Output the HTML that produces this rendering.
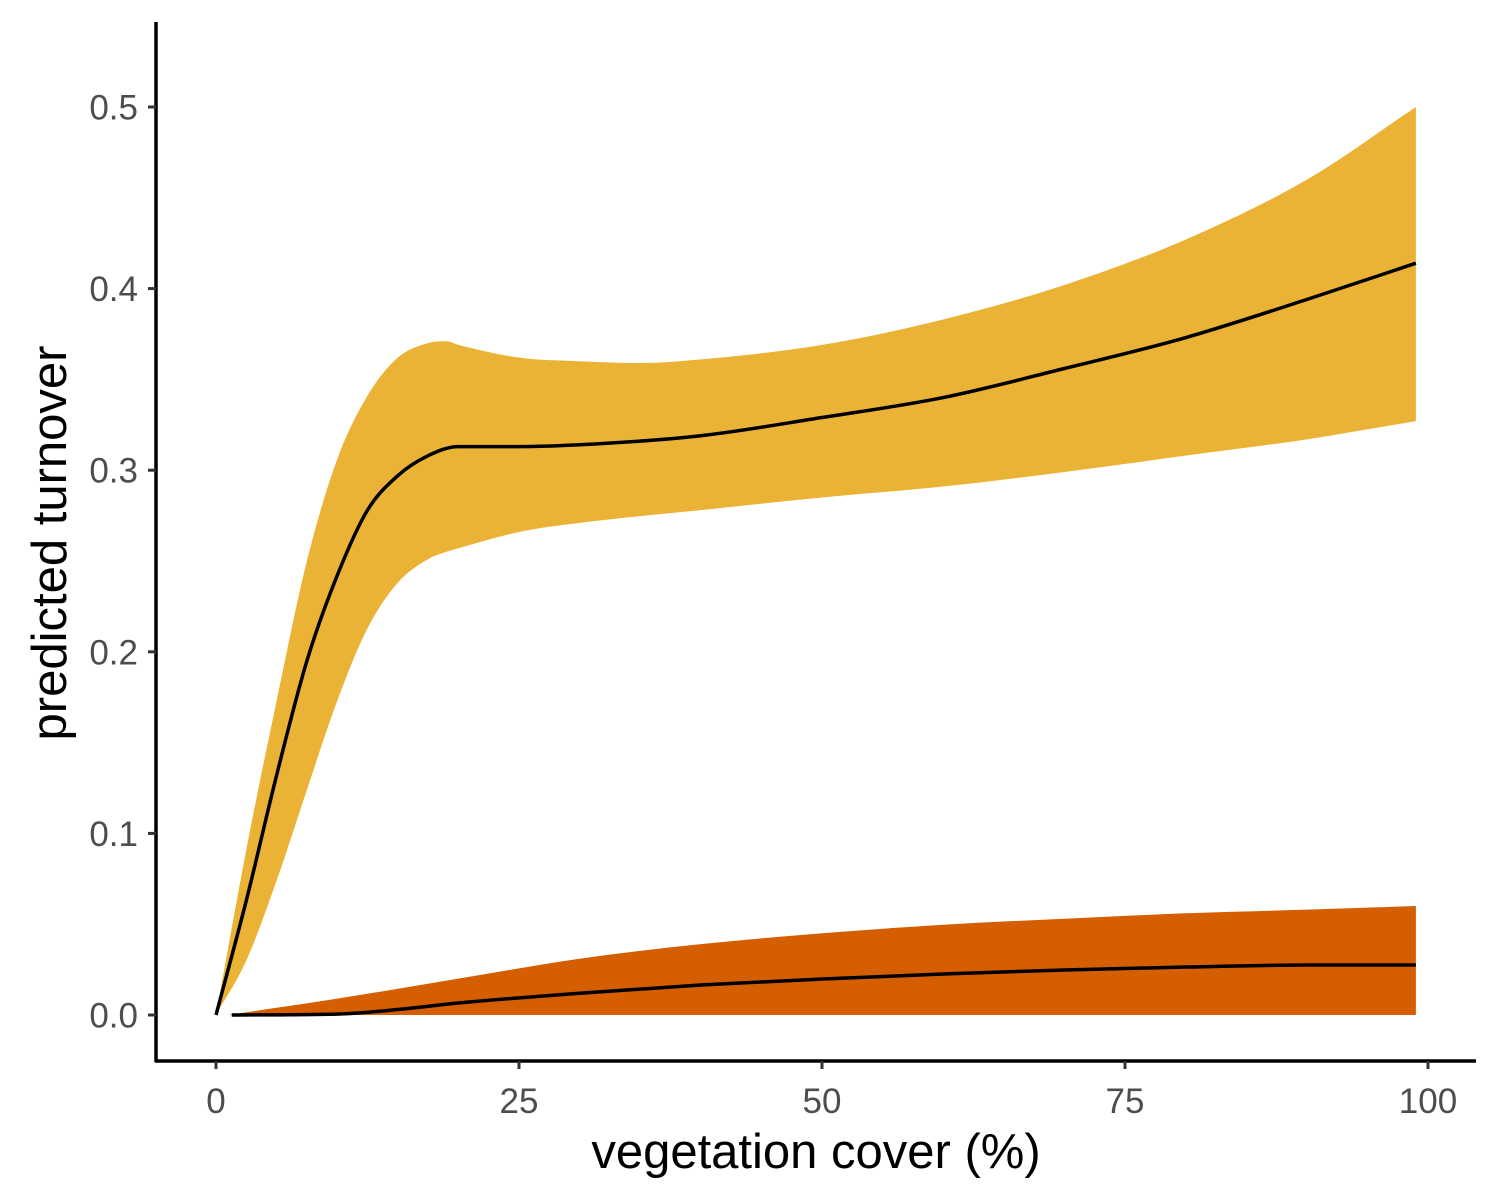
<!DOCTYPE html>
<html><head><meta charset="utf-8"><style>
html,body{margin:0;padding:0;background:#fff;}
svg{display:block;font-family:"Liberation Sans",Arial,sans-serif;}
</style></head><body>
<svg id="chart" width="1500" height="1200" viewBox="0 0 1500 1200">
<g id="bands"></g>
<g id="lines"></g>
<line x1="156" y1="22" x2="156" y2="1062" stroke="#000" stroke-width="3.5"/>
<line x1="155" y1="1061" x2="1476" y2="1061" stroke="#000" stroke-width="3.5"/>
<g id="ticks"></g>
<text x="816" y="1168" font-size="49" text-anchor="middle" fill="#000">vegetation cover (%)</text>
<text transform="translate(66,543) rotate(-90)" font-size="49" text-anchor="middle" fill="#000">predicted turnover</text>
</svg>
<script>
const xTicks=[0,25,50,75,100];
const yTicks=[0,0.1,0.2,0.3,0.4,0.5];
const yTickLabels=["0.0","0.1","0.2","0.3","0.4","0.5"];
const yelX=[0,2.5,5,7.5,10,12.5,15,17.5,20,25,30,40,50,60,70,80,90,99];
const yelMean=[0,0.063,0.132,0.195,0.242,0.278,0.297,0.308,0.313,0.313,0.314,0.319,0.329,0.340,0.356,0.373,0.394,0.414];
const yelUpperX=[0,2.5,5,7.5,10,12.5,15,17.5,19,20,25,30,35,40,50,60,70,80,90,99];
const yelUpper=[0,0.091,0.173,0.25,0.306,0.341,0.362,0.370,0.371,0.369,0.362,0.360,0.359,0.361,0.369,0.383,0.402,0.427,0.46,0.5];
const yelLowerX=[0,2.5,5,7.5,10,12.5,15,17.5,19,20,25,30,40,50,60,70,80,90,99];
const yelLower=[0,0.03,0.074,0.124,0.173,0.213,0.238,0.251,0.255,0.257,0.266,0.271,0.278,0.285,0.291,0.299,0.308,0.317,0.327];
const orX=[1,10,20,30,40,50,60,70,80,90,99];
const orUpper=[0,0.009,0.02,0.031,0.039,0.045,0.0497,0.053,0.056,0.058,0.060];
const orLower=[0,0,0,0,0,0,0,0,0,0,0];
const orMeanX=[1.3,10,15,20,30,40,50,60,70,80,90,99];
const orMean=[0,0.0005,0.003,0.0066,0.012,0.0165,0.0198,0.0226,0.0248,0.0264,0.0275,0.0275];

const sx=v=>216+v*12.12;
const sy=v=>1015-v*1816;
const NS="http://www.w3.org/2000/svg";
function pts(xs,ys){return xs.map((x,i)=>[sx(x),sy(ys[i])]);}
function smooth(p,move,rev){
  // monotone cubic (Fritsch-Carlson) on x-sorted points
  const n=p.length, m=new Array(n), d=[];
  for(let i=0;i<n-1;i++) d.push((p[i+1][1]-p[i][1])/(p[i+1][0]-p[i][0]));
  m[0]=d[0]; m[n-1]=d[n-2];
  for(let i=1;i<n-1;i++){ m[i]=(d[i-1]*d[i]<=0)?0:(d[i-1]+d[i])/2; }
  for(let i=0;i<n-1;i++){
    if(d[i]===0){m[i]=0;m[i+1]=0;continue;}
    const a=m[i]/d[i],b=m[i+1]/d[i],s=a*a+b*b;
    if(s>9){const t=3/Math.sqrt(s);m[i]=t*a*d[i];m[i+1]=t*b*d[i];}
  }
  const segs=[];
  for(let i=0;i<n-1;i++){
    const h=(p[i+1][0]-p[i][0])/3;
    segs.push([p[i],[p[i][0]+h,p[i][1]+m[i]*h],[p[i+1][0]-h,p[i+1][1]-m[i+1]*h],p[i+1]]);
  }
  const f=q=>q[0].toFixed(2)+","+q[1].toFixed(2);
  let out;
  if(!rev){
    out=(move?"M":"L")+f(p[0]);
    segs.forEach(s=>{out+="C"+f(s[1])+" "+f(s[2])+" "+f(s[3]);});
  }else{
    out=(move?"M":"L")+f(p[n-1]);
    segs.reverse().forEach(s=>{out+="C"+f(s[2])+" "+f(s[1])+" "+f(s[0]);});
  }
  return out;
}
function band(xu,up,xl,lo){
  return smooth(pts(xu,up),true,false)+smooth(pts(xl,lo),false,true)+"Z";
}
const bands=document.getElementById('bands');
const lines=document.getElementById('lines');
let el=document.createElementNS(NS,'path');
el.setAttribute('d',band(yelUpperX,yelUpper,yelLowerX,yelLower));
el.setAttribute('fill','#EBB335');


bands.appendChild(el);
el=document.createElementNS(NS,'path');
el.setAttribute('d',band(orX,orUpper,orX,orLower));
el.setAttribute('fill','#D55E00');


bands.appendChild(el);
el=document.createElementNS(NS,'path');
el.setAttribute('d',smooth(pts(yelX,yelMean),true,false));
el.setAttribute('fill','none');el.setAttribute('stroke','#000');el.setAttribute('stroke-width','3.5');


lines.appendChild(el);
el=document.createElementNS(NS,'path');
el.setAttribute('d',smooth(pts(orMeanX,orMean),true,false));
el.setAttribute('fill','none');el.setAttribute('stroke','#000');el.setAttribute('stroke-width','3.5');


lines.appendChild(el);

const tk=document.getElementById('ticks');
xTicks.forEach(v=>{
  const l=document.createElementNS(NS,'line');
  l.setAttribute('x1',sx(v));l.setAttribute('x2',sx(v));l.setAttribute('y1',1061);l.setAttribute('y2',1069);
  l.setAttribute('stroke','#333');l.setAttribute('stroke-width','3');
  
  
  tk.appendChild(l);
  const t=document.createElementNS(NS,'text');
  t.setAttribute('x',sx(v));t.setAttribute('y',1113);t.setAttribute('font-size','35');
  t.setAttribute('text-anchor','middle');t.setAttribute('fill','#4d4d4d');
  t.textContent=String(v);
  
  
  tk.appendChild(t);
});
yTicks.forEach((v,i)=>{
  const l=document.createElementNS(NS,'line');
  l.setAttribute('x1',148);l.setAttribute('x2',156);l.setAttribute('y1',sy(v));l.setAttribute('y2',sy(v));
  l.setAttribute('stroke','#333');l.setAttribute('stroke-width','3');
  
  
  tk.appendChild(l);
  const t=document.createElementNS(NS,'text');
  t.setAttribute('x',138);t.setAttribute('y',sy(v)+12.5);t.setAttribute('font-size','35');
  t.setAttribute('text-anchor','end');t.setAttribute('fill','#4d4d4d');
  t.textContent=yTickLabels[i];
  
  
  tk.appendChild(t);
});
</script>
</body></html>
